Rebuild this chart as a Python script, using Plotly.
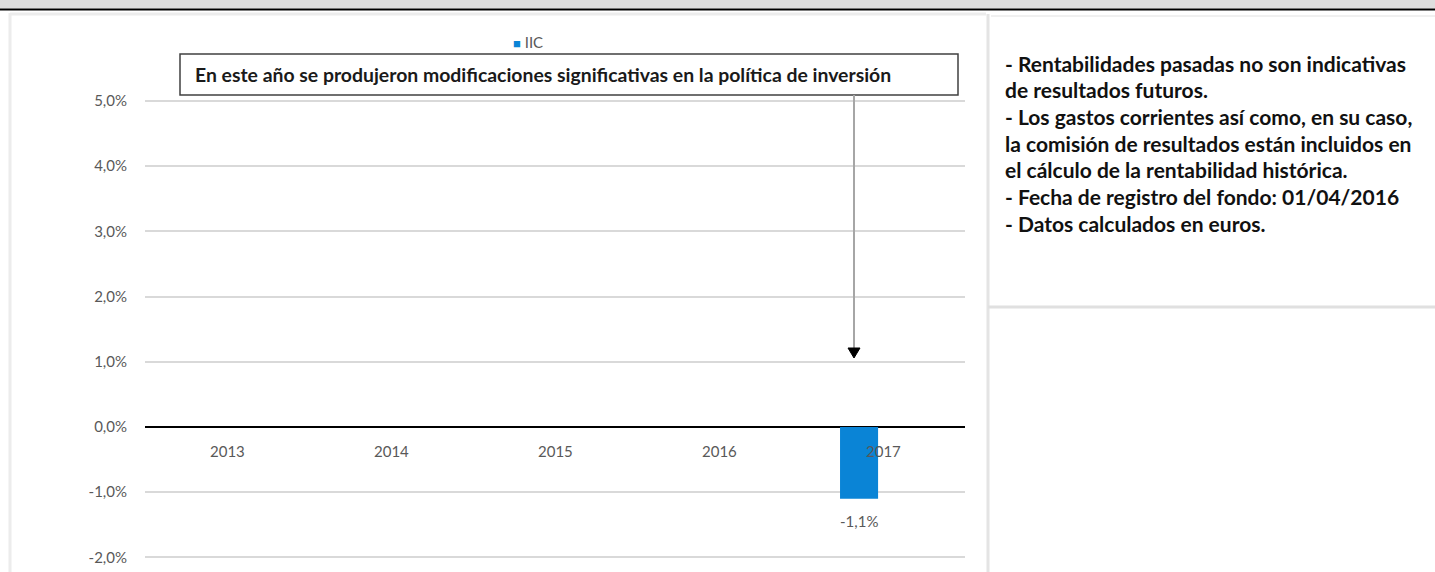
import plotly.graph_objects as go

# ---- data ----
categories = ["2013", "2014", "2015", "2016", "2017"]
iic_values = [None, None, None, None, -1.1]
bar_labels = ["", "", "", "", "-1,1%"]
series_name = "IIC"
y_tick_vals = [-2, -1, 0, 1, 2, 3, 4, 5]
y_tick_text = ["-2,0%", "-1,0%", "0,0%", "1,0%", "2,0%", "3,0%", "4,0%", "5,0%"]
note_text = "En este año se produjeron modificaciones significativas en la política de inversión"
side_lines = [
    "- Rentabilidades pasadas no son indicativas",
    "de resultados futuros.",
    "- Los gastos corrientes así como, en su caso,",
    "la comisión de resultados están incluidos en",
    "el cálculo de la rentabilidad histórica.",
    "- Fecha de registro del fondo: 01/04/2016",
    "- Datos calculados en euros.",
]

# ---- layout geometry (pixels) ----
W, H = 1435, 572
L, R, T, B = 145, 965, 94, 572
ZERO_PX, UNIT_PX = 427, 65.2
y_top = (ZERO_PX - T) / UNIT_PX
y_bot = (ZERO_PX - B) / UNIT_PX
BAR_OFFSET, BAR_WIDTH = -0.262, 0.232


def px(xp):
    return (xp - L) / (R - L)


def py(yp):
    return (B - yp) / (B - T)


FONT = "Lato, 'Open Sans', sans-serif"
GRAY_TXT = "#595959"
BAR_COLOR = "#0A84D6"

fig = go.Figure()
fig.add_trace(go.Bar(
    x=categories, y=iic_values, name=series_name,
    marker=dict(color=BAR_COLOR, line=dict(width=0)),
    offset=BAR_OFFSET, width=BAR_WIDTH,
    showlegend=False,
))

annotations = []
# category labels next to zero axis
for i, c in enumerate(categories):
    annotations.append(dict(x=i, y=0, xref="x", yref="y", text=c, showarrow=False,
                            yshift=-24, font=dict(family=FONT, size=15, color=GRAY_TXT)))
# bar value labels
for i, (v, lab) in enumerate(zip(iic_values, bar_labels)):
    if v is not None and lab:
        annotations.append(dict(x=i + BAR_OFFSET + BAR_WIDTH / 2, y=v, xref="x", yref="y", text=lab,
                                showarrow=False, yshift=-22 if v < 0 else 22,
                                font=dict(family=FONT, size=15, color=GRAY_TXT)))
# legend
annotations.append(dict(x=px(511), y=py(42), xref="paper", yref="paper",
                        text=f"<span style='color:{BAR_COLOR};font-size:13px'>■</span> {series_name}",
                        showarrow=False, xanchor="left", yanchor="middle",
                        font=dict(family=FONT, size=15, color=GRAY_TXT)))
# note box
annotations.append(dict(x=px(193), y=py(75), xref="paper", yref="paper", text="<b>" + note_text + "</b>",
                        showarrow=False, xanchor="left", yanchor="middle",
                        font=dict(family=FONT, size=19.4, color="#1a1a1a")))
# side text
for i, line in enumerate(side_lines):
    annotations.append(dict(x=px(1003), y=py(63 + i * 26.7), xref="paper", yref="paper",
                            text="<b>" + line + "</b>", showarrow=False, xanchor="left", yanchor="middle",
                            font=dict(family=FONT, size=21, color="#111111")))

shapes = [
    # top band
    dict(type="rect", xref="paper", yref="paper", x0=px(0), x1=px(W), y0=py(0), y1=py(8.5),
         fillcolor="#dedede", line=dict(width=0), layer="above"),
    dict(type="line", xref="paper", yref="paper", x0=px(0), x1=px(W), y0=py(9.5), y1=py(9.5),
         line=dict(color="#000000", width=2)),
    # panel borders
    dict(type="line", xref="paper", yref="paper", x0=px(10), x1=px(10), y0=py(13), y1=py(W),
         line=dict(color="#ececec", width=3)),
    dict(type="line", xref="paper", yref="paper", x0=px(10), x1=px(986), y0=py(14), y1=py(14),
         line=dict(color="#ececec", width=3)),
    dict(type="line", xref="paper", yref="paper", x0=px(988), x1=px(988), y0=py(14), y1=py(W),
         line=dict(color="#e4e4e4", width=3)),
    dict(type="line", xref="paper", yref="paper", x0=px(991), x1=px(W), y0=py(16), y1=py(16),
         line=dict(color="#f0f0f0", width=2)),
    dict(type="line", xref="paper", yref="paper", x0=px(988), x1=px(W), y0=py(307), y1=py(307),
         line=dict(color="#e0e0e0", width=3)),
    # note box
    dict(type="rect", xref="paper", yref="paper", x0=px(180), x1=px(958), y0=py(54), y1=py(95),
         fillcolor="#ffffff", line=dict(color="#404040", width=1.5)),
    # arrow line and head
    dict(type="line", xref="paper", yref="paper", x0=px(854), x1=px(854), y0=py(95), y1=py(349),
         line=dict(color="#a6a6a6", width=2)),
    dict(type="path", xref="paper", yref="paper",
         path=f"M {px(848)} {py(348)} L {px(860)} {py(348)} L {px(854)} {py(358)} Z",
         fillcolor="#000000", line=dict(color="#000000", width=1)),
]

fig.update_layout(
    width=W, height=H,
    margin=dict(l=L, r=W - R, t=T, b=H - B, pad=0),
    paper_bgcolor="#ffffff", plot_bgcolor="#ffffff",
    showlegend=False,
    xaxis=dict(type="category", showticklabels=False, showgrid=False, zeroline=False,
               showline=False, range=[-0.5, 4.5], fixedrange=True),
    yaxis=dict(range=[y_bot, y_top], tickvals=y_tick_vals, ticktext=y_tick_text,
               showgrid=True, gridcolor="#d9d9d9", gridwidth=1.5,
               zeroline=True, zerolinecolor="#000000", zerolinewidth=1.5,
               showline=False, ticks="", ticklabelstandoff=17,
               tickfont=dict(family=FONT, size=15, color=GRAY_TXT)),
    shapes=shapes,
    annotations=annotations,
)

fig.write_html("out.html", config={"displayModeBar": False},
               post_script="document.body.style.margin='0px';")
